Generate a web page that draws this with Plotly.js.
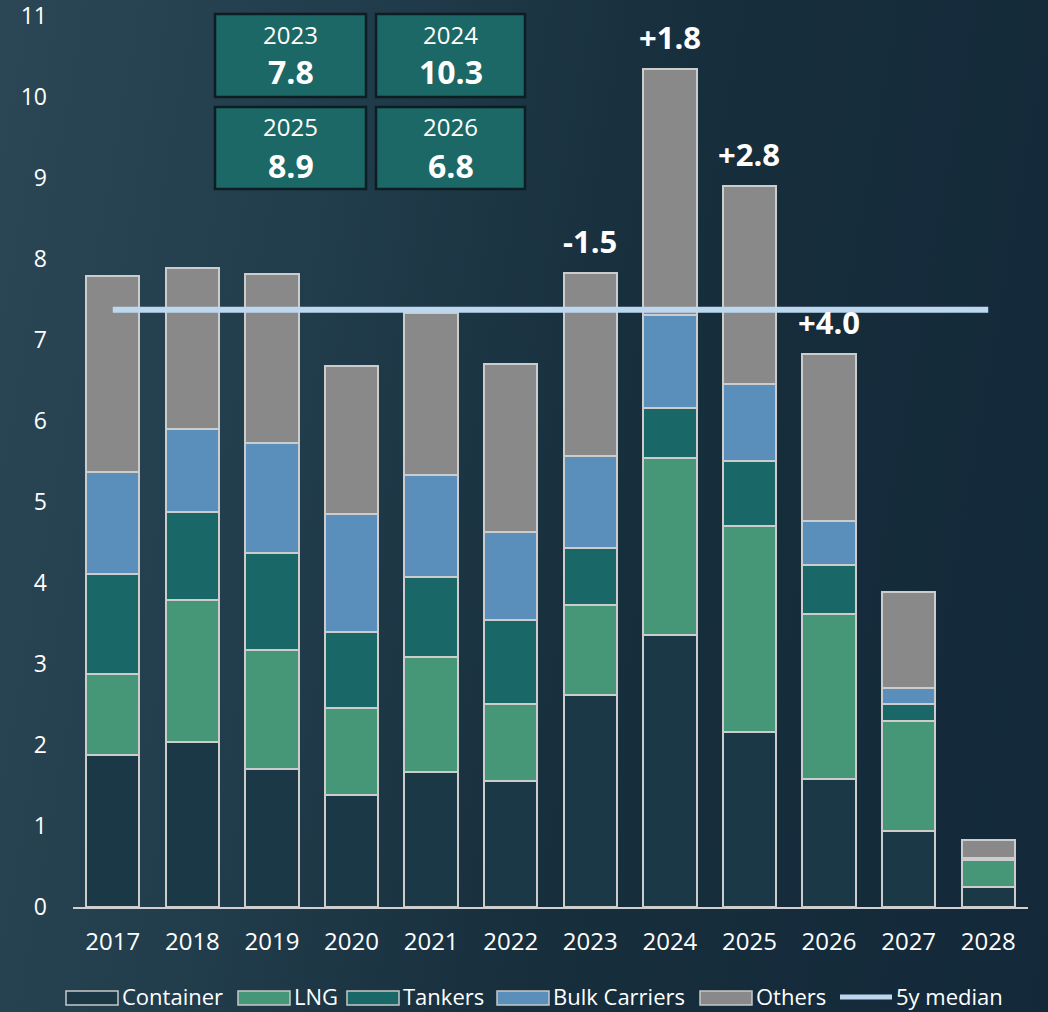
<!DOCTYPE html>
<html><head><meta charset="utf-8">
<script src="https://cdn.plot.ly/plotly-3.0.1.min.js"></script>
<style>
html,body{margin:0;padding:0;width:1048px;height:1012px;overflow:hidden;
background: linear-gradient(100deg,#2b4756 0%,#213c4b 30%,#172e3c 58%,#13293a 100%);}
#chart{width:1048px;height:1012px;}
</style></head><body><div id="chart"></div>
<script>
// ---- data ----
const years = ['2017','2018','2019','2020','2021','2022','2023','2024','2025','2026','2027','2028'];
const container = [1.87,2.04,1.70,1.38,1.67,1.56,2.62,3.36,2.16,1.58,0.94,0.25];
const lng       = [1.00,1.75,1.47,1.08,1.42,0.95,1.11,2.18,2.54,2.04,1.36,0.33];
const tankers   = [1.24,1.08,1.20,0.93,0.98,1.03,0.70,0.62,0.80,0.60,0.20,0.02];
const bulk      = [1.26,1.03,1.35,1.46,1.26,1.09,1.13,1.14,0.95,0.54,0.20,0.01];
const others    = [2.42,1.98,2.09,1.83,2.00,2.07,2.26,3.04,2.45,2.06,1.19,0.22];
const medianValue = 7.37;
const changeYears  = ['2023','2024','2025','2026'];
const changeLabels = ['-1.5','+1.8','+2.8','+4.0'];
const boxYears  = ['2023','2024','2025','2026'];
const boxValues = ['7.8','10.3','8.9','6.8'];

// ---- layout helpers ----
const W = 1048, H = 1012;
const M = {l:73, r:20, t:11, b:105};
const PW = W - M.l - M.r, PH = H - M.t - M.b;
const YMAX = 11.055;
const px2x = px => (px - M.l) / PW;
const py2y = py => (H - M.b - py) / PH;

const FONT = 'Open Sans, sans-serif';
const border = {color:'#cccccc', width:2};

const series = [
  {name:'Container', y:container, color:'#1b3846'},
  {name:'LNG', y:lng, color:'#469678'},
  {name:'Tankers', y:tankers, color:'#196767'},
  {name:'Bulk Carriers', y:bulk, color:'#5a8fbc'},
  {name:'Others', y:others, color:'#898989'}
];
const medianColor = '#bdd7ee';
const traces = series.map(s => ({
  type:'bar', name:s.name, x:years, y:s.y,
  marker:{color:s.color, line:border},
  hoverinfo:'skip', showlegend:false
}));
traces.push({
  type:'scatter', mode:'lines', name:'5y median',
  x:[years[0], years[years.length-1]], y:[medianValue, medianValue],
  line:{color:medianColor, width:6}, hoverinfo:'skip', showlegend:false
});

const totals = years.map((_, i) => series.reduce((a, s) => a + s.y[i], 0));

const annotations = changeYears.map((yr, k) => ({
  x: years.indexOf(yr), y: totals[years.indexOf(yr)], xref:'x', yref:'y',
  text: '<b>' + changeLabels[k] + '</b>', showarrow:false,
  yanchor:'bottom', yshift:9,
  font:{family:FONT, size:31, color:'#ffffff'}
}));

// summary boxes
const boxCols = [[215,366],[376,525]];
const boxRows = [[14,97],[107,189]];
const shapes = [];
boxYears.forEach((yr, k) => {
  const c = boxCols[k % 2], r = boxRows[Math.floor(k / 2)];
  shapes.push({type:'rect', xref:'paper', yref:'paper',
    x0:px2x(c[0]), x1:px2x(c[1]), y0:py2y(r[1]), y1:py2y(r[0]),
    fillcolor:'#1b6866', line:{color:'#0c1d23', width:2.5}, layer:'above'});
  const cx = px2x((c[0] + c[1]) / 2);
  annotations.push({xref:'paper', yref:'paper', x:cx, y:py2y(r[0] + 20),
    text:yr, showarrow:false, xanchor:'center', yanchor:'middle',
    font:{family:FONT, size:24, color:'#ffffff'}});
  annotations.push({xref:'paper', yref:'paper', x:cx, y:py2y(r[0] + 58),
    text:'<b>' + boxValues[k] + '</b>', showarrow:false, xanchor:'center', yanchor:'middle',
    font:{family:FONT, size:32, color:'#ffffff'}});
});

// custom legend (symbol left edge, text left edge in px)
const legendPos = [[66,121],[238,293],[347,402],[497,552],[700,755]];
const LEG_Y0 = 991, LEG_Y1 = 1005, LEG_YC = 996;
series.forEach((s, k) => {
  const p = legendPos[k];
  shapes.push({type:'rect', xref:'paper', yref:'paper',
    x0:px2x(p[0]), x1:px2x(p[0] + 52), y0:py2y(LEG_Y1), y1:py2y(LEG_Y0),
    fillcolor:s.color, line:{color:'#c8c8c8', width:1.5}, layer:'above'});
  annotations.push({xref:'paper', yref:'paper', x:px2x(p[1]), y:py2y(LEG_YC),
    text:s.name, showarrow:false, xanchor:'left', yanchor:'middle', borderpad:0,
    font:{family:FONT, size:22, color:'#ffffff'}});
});
shapes.push({type:'line', xref:'paper', yref:'paper',
  x0:px2x(840), x1:px2x(892), y0:py2y(997), y1:py2y(997),
  line:{color:medianColor, width:5}, layer:'above'});
annotations.push({xref:'paper', yref:'paper', x:px2x(895), y:py2y(LEG_YC),
  text:'5y median', showarrow:false, xanchor:'left', yanchor:'middle', borderpad:0,
  font:{family:FONT, size:22, color:'#ffffff'}});

const layout = {
  width:W, height:H,
  margin:{l:M.l, r:M.r, t:M.t, b:M.b, pad:0},
  paper_bgcolor:'rgba(0,0,0,0)', plot_bgcolor:'rgba(0,0,0,0)',
  barmode:'stack', bargap:0.33,
  font:{family:FONT, color:'#ffffff', size:24},
  xaxis:{type:'category', range:[-0.5, years.length - 0.5], autorange:false,
    showgrid:false, zeroline:false, showline:true,
    linecolor:'#d0d0d0', linewidth:2, ticks:'', ticklabelstandoff:12,
    tickfont:{family:FONT, size:24, color:'#ffffff'}, fixedrange:true},
  yaxis:{range:[0, YMAX], autorange:false, tick0:0, dtick:1, showgrid:false, zeroline:false, showline:false,
    ticks:'', ticklabelstandoff:25, ticklabeloverflow:'allow',
    tickfont:{family:FONT, size:23, color:'#ffffff'}, fixedrange:true},
  showlegend:false,
  annotations:annotations, shapes:shapes,
  hovermode:false
};

Plotly.newPlot('chart', traces, layout, {displayModeBar:false, staticPlot:true});
</script></body></html>
